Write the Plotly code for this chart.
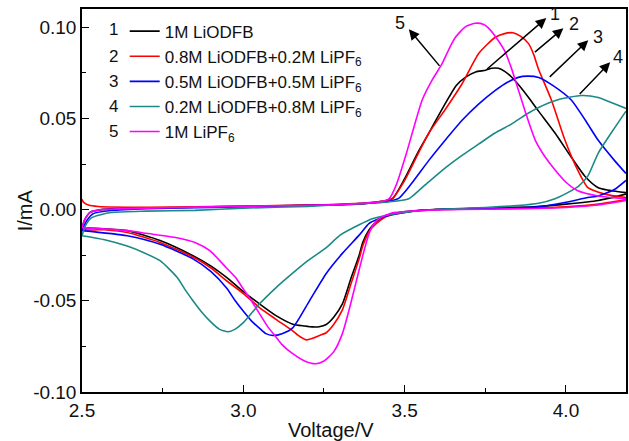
import plotly.graph_objects as go

# ---- cyclic voltammetry loops: forward (anodic) sweep 2.5 -> 4.19 V ----
fwd_v_1 = [2.5, 2.51, 2.525, 2.56, 2.65, 2.8, 3.0, 3.2, 3.35, 3.43, 3.462, 3.5, 3.54, 3.575, 3.6, 3.637,
           3.66, 3.689, 3.72, 3.751, 3.77, 3.791, 3.81, 3.832, 3.86, 3.884, 3.915, 3.966, 4.017, 4.06,
           4.1, 4.186]
fwd_i_1 = [-0.0099, -0.005, -0.0015, 0.0, 0.0008, 0.0012, 0.0018, 0.0025, 0.003, 0.0045, 0.006, 0.017,
           0.031, 0.042, 0.05, 0.0615, 0.068, 0.0726, 0.0755, 0.0764, 0.0775, 0.0775, 0.0758, 0.0726,
           0.067, 0.0615, 0.054, 0.042, 0.0286, 0.018, 0.012, 0.0093]

fwd_v_2 = [2.5, 2.505, 2.52, 2.55, 2.7, 2.9, 3.1, 3.3, 3.43, 3.462, 3.5, 3.54, 3.575, 3.63, 3.678,
           3.73, 3.781, 3.81, 3.836, 3.86, 3.884, 3.9, 3.915, 3.955, 3.997, 4.03, 4.068, 4.12, 4.186]
fwd_i_2 = [0.0055, 0.004, 0.0025, 0.0017, 0.0013, 0.0017, 0.0022, 0.0029, 0.0045, 0.006, 0.016,
           0.03, 0.042, 0.056, 0.069, 0.0857, 0.0945, 0.0965, 0.097, 0.095, 0.091, 0.085, 0.077, 0.06,
           0.038, 0.024, 0.012, 0.0085, 0.0066]

fwd_v_3 = [2.5, 2.515, 2.535, 2.59, 2.7, 2.9, 3.1, 3.3, 3.43, 3.48, 3.52, 3.575, 3.63, 3.678, 3.73,
           3.781, 3.82, 3.852, 3.88, 3.915, 3.96, 4.017, 4.06, 4.1, 4.15, 4.186]
fwd_i_3 = [-0.0115, -0.006, -0.0022, -0.0005, 0.0005, 0.0012, 0.0019, 0.0027, 0.004, 0.006, 0.014,
           0.027, 0.039, 0.049, 0.058, 0.0654, 0.07, 0.0725, 0.0732, 0.0725, 0.068, 0.06, 0.049,
           0.038, 0.027, 0.0198]

fwd_v_4 = [2.5, 2.51, 2.53, 2.59, 2.7, 2.85, 3.0, 3.2, 3.359, 3.45, 3.513, 3.56, 3.627, 3.68, 3.73,
           3.78, 3.832, 3.875, 3.915, 3.98, 4.048, 4.1, 4.15, 4.186]
fwd_i_4 = [-0.0143, -0.009, -0.0044, -0.0016, -0.0008, -0.0004, 0.0008, 0.0018, 0.0033, 0.0042,
           0.006, 0.013, 0.023, 0.03, 0.036, 0.042, 0.047, 0.052, 0.056, 0.0605, 0.0626, 0.0615,
           0.058, 0.0555]

fwd_v_5 = [2.5, 2.51, 2.525, 2.56, 2.7, 2.9, 3.1, 3.3, 3.43, 3.452, 3.475, 3.504, 3.53, 3.554, 3.585,
           3.616, 3.64, 3.658, 3.69, 3.72, 3.745, 3.76, 3.785, 3.81, 3.83, 3.85, 3.875, 3.905, 3.935,
           3.965, 4.0, 4.035, 4.1, 4.186]
fwd_i_5 = [-0.0099, -0.005, -0.0015, 0.0, 0.0008, 0.0015, 0.0021, 0.0028, 0.0045, 0.006, 0.014, 0.03,
           0.046, 0.06, 0.071, 0.08, 0.089, 0.0946, 0.1005, 0.1022, 0.1015, 0.0995, 0.094, 0.087,
           0.078, 0.067, 0.053, 0.038, 0.029, 0.022, 0.015, 0.0105, 0.0075, 0.006]

# ---- reverse (cathodic) sweep 4.19 -> 2.5 V ----
rev_v_1 = [4.186, 4.1, 4.0, 3.9, 3.75, 3.6, 3.52, 3.47, 3.44, 3.41, 3.39, 3.37, 3.359, 3.333, 3.307,
           3.28, 3.257, 3.235, 3.214, 3.19, 3.153, 3.1, 3.05, 3.0, 2.948, 2.9, 2.844, 2.742, 2.64,
           2.57, 2.5]
rev_i_1 = [0.0085, 0.005, 0.003, 0.0015, 0.0008, 0.0002, -0.0008, -0.002, -0.0035, -0.007, -0.011,
           -0.018, -0.025, -0.038, -0.0517, -0.059, -0.063, -0.0642, -0.0643, -0.0638, -0.0628,
           -0.058, -0.0517, -0.045, -0.0372, -0.031, -0.0253, -0.017, -0.0115, -0.0105, -0.0099]

rev_v_2 = [4.186, 4.1, 4.0, 3.9, 3.75, 3.6, 3.52, 3.47, 3.44, 3.41, 3.39, 3.37, 3.359, 3.333, 3.307,
           3.28, 3.257, 3.236, 3.215, 3.195, 3.17, 3.153, 3.1, 3.05, 3.0, 2.948, 2.9, 2.844, 2.742,
           2.64, 2.57, 2.5]
rev_i_2 = [0.0055, 0.003, 0.0015, 0.0008, 0.0004, 0.0, -0.001, -0.0025, -0.004, -0.008, -0.012,
           -0.02, -0.027, -0.041, -0.055, -0.063, -0.0675, -0.069, -0.0705, -0.0714, -0.069,
           -0.0665, -0.06, -0.0537, -0.046, -0.039, -0.032, -0.026, -0.018, -0.0125, -0.011, -0.0105]

rev_v_3 = [4.186, 4.15, 4.1, 4.068, 4.0, 3.915, 3.8, 3.65, 3.55, 3.5, 3.46, 3.42, 3.39, 3.359, 3.307,
           3.257, 3.205, 3.153, 3.12, 3.091, 3.07, 3.05, 3.025, 2.999, 2.975, 2.948, 2.9, 2.844,
           2.742, 2.64, 2.5]
rev_i_3 = [0.016, 0.011, 0.0075, 0.0066, 0.004, 0.0015, 0.0008, 0.0003, -0.0005, -0.0015, -0.0027,
           -0.005, -0.0075, -0.014, -0.024, -0.035, -0.05, -0.0648, -0.068, -0.069, -0.068, -0.065,
           -0.061, -0.0555, -0.05, -0.043, -0.034, -0.027, -0.019, -0.0143, -0.0115]

rev_v_4 = [4.186, 4.14, 4.1, 4.068, 4.04, 4.017, 3.966, 3.915, 3.85, 3.75, 3.65, 3.55, 3.5, 3.46, 3.4,
           3.359, 3.3, 3.257, 3.2, 3.152, 3.1, 3.05, 3.0, 2.975, 2.952, 2.925, 2.896, 2.87, 2.844,
           2.82, 2.794, 2.742, 2.69, 2.64, 2.57, 2.5]
rev_i_4 = [0.054, 0.042, 0.031, 0.0185, 0.013, 0.0104, 0.006, 0.0035, 0.0022, 0.0012, 0.0005,
           -0.0005, -0.0015, -0.0025, -0.005, -0.0083, -0.014, -0.0208, -0.028, -0.035, -0.043,
           -0.0517, -0.062, -0.0655, -0.067, -0.0655, -0.061, -0.056, -0.05, -0.044, -0.037, -0.028,
           -0.0235, -0.02, -0.0165, -0.0143]

rev_v_5 = [4.186, 4.1, 4.0, 3.9, 3.75, 3.6, 3.52, 3.46, 3.42, 3.4, 3.39, 3.375, 3.359, 3.335, 3.307,
           3.28, 3.25, 3.224, 3.19, 3.153, 3.12, 3.102, 3.075, 3.05, 3.025, 2.998, 2.975, 2.948,
           2.896, 2.85, 2.794, 2.7, 2.64, 2.5]
rev_i_5 = [0.005, 0.0025, 0.0012, 0.0006, 0.0002, -0.0002, -0.0008, -0.0018, -0.005, -0.009, -0.013,
           -0.022, -0.033, -0.05, -0.068, -0.078, -0.083, -0.0845, -0.083, -0.079, -0.074, -0.07,
           -0.064, -0.057, -0.05, -0.043, -0.037, -0.032, -0.0225, -0.018, -0.0154, -0.013, -0.0115,
           -0.0099]

series_names = ["1M LiODFB",
                "0.8M LiODFB+0.2M LiPF<sub>6</sub>",
                "0.5M LiODFB+0.5M LiPF<sub>6</sub>",
                "0.2M LiODFB+0.8M LiPF<sub>6</sub>",
                "1M LiPF<sub>6</sub>"]
series_tags = ["1", "2", "3", "4", "5"]
series_colors = ["#000000", "#ff0000", "#0000ff", "#1b8a86", "#ff00ff"]

forward = [(fwd_v_1, fwd_i_1), (fwd_v_2, fwd_i_2), (fwd_v_3, fwd_i_3), (fwd_v_4, fwd_i_4),
           (fwd_v_5, fwd_i_5)]
reverse = [(rev_v_1, rev_i_1), (rev_v_2, rev_i_2), (rev_v_3, rev_i_3), (rev_v_4, rev_i_4),
           (rev_v_5, rev_i_5)]

# tail of each peak-marker arrow (on the curve) and its head/label position
arrow_tail_v = [3.751, 3.899, 3.945, 4.038, 3.612]
arrow_tail_i = [0.0764, 0.0857, 0.072, 0.0626, 0.078]
arrow_head_v = [3.939, 3.992, 4.069, 4.137, 3.513]
arrow_head_i = [0.105, 0.0995, 0.0929, 0.0808, 0.0989]
label_v = [3.965, 4.025, 4.1, 4.16, 3.487]
label_i = [0.1072, 0.1018, 0.0948, 0.0838, 0.1025]

x_tick_vals = [2.5, 3.0, 3.5, 4.0]
x_tick_text = ["2.5", "3.0", "3.5", "4.0"]
y_tick_vals = [-0.10, -0.05, 0.00, 0.05, 0.10]
y_tick_text = ["-0.10", "-0.05", "0.00", "0.05", "0.10"]

FONT = "Liberation Sans, Arial, sans-serif"
INK = "#111111"

fig = go.Figure()
for k in range(5):
    fv, fi = forward[k]
    rv, ri = reverse[k]
    fig.add_trace(go.Scatter(
        x=rv + fv, y=ri + fi, mode="lines", name=series_names[k],
        line=dict(color=series_colors[k], width=1.6, shape="spline", smoothing=0.6),
    ))

annotations = []
for k in range(5):
    annotations.append(dict(
        x=arrow_head_v[k], y=arrow_head_i[k], ax=arrow_tail_v[k], ay=arrow_tail_i[k],
        xref="x", yref="y", axref="x", ayref="y", text="", showarrow=True,
        arrowhead=2, arrowsize=1.4, arrowwidth=1.5, arrowcolor="#000000", standoff=0,
    ))
    annotations.append(dict(
        x=label_v[k], y=label_i[k], xref="x", yref="y", text=series_tags[k], showarrow=False,
        font=dict(family=FONT, size=18, color=INK),
    ))

# numbering in front of the legend rows
legend_row_y = [0.0990, 0.0837, 0.0705, 0.0568, 0.0431]
for k in range(5):
    annotations.append(dict(
        x=2.597, y=legend_row_y[k], xref="x", yref="y", text=series_tags[k], showarrow=False,
        font=dict(family=FONT, size=17, color=INK), xanchor="center",
    ))

# axis titles
annotations.append(dict(
    x=0.457, y=-0.099, xref="paper", yref="paper", text="Voltage/V", showarrow=False,
    font=dict(family=FONT, size=20, color=INK), yanchor="middle", xanchor="center",
))
annotations.append(dict(
    x=-0.1044, y=0.475, xref="paper", yref="paper", text="I/mA", showarrow=False,
    font=dict(family=FONT, size=20, color=INK), textangle=-90,
    xanchor="center", yanchor="middle",
))

fig.update_layout(
    width=629, height=441,
    margin=dict(l=82, r=1, t=9, b=49),
    paper_bgcolor="white", plot_bgcolor="white",
    font=dict(family=FONT, size=19, color=INK),
    showlegend=True,
    legend=dict(x=0.0785, y=0.988, xanchor="left", yanchor="top",
                bgcolor="rgba(0,0,0,0)", font=dict(family=FONT, size=17, color=INK),
                tracegroupgap=0, itemwidth=30),
    annotations=annotations,
)
fig.update_xaxes(
    range=[2.5, 4.186], showgrid=False, zeroline=False,
    showline=True, linecolor="#000000", linewidth=1.5, mirror=True,
    ticks="inside", ticklen=7, tickwidth=1.2, tickcolor="#000000",
    tickvals=x_tick_vals, ticktext=x_tick_text,
    minor=dict(ticks="inside", ticklen=4, tickwidth=1.2, tickcolor="#000000", dtick=0.25,
               tick0=2.5, showgrid=False),
    tickfont=dict(family=FONT, size=19, color=INK),
)
fig.update_yaxes(
    range=[-0.10, 0.11], showgrid=False, zeroline=False,
    showline=True, linecolor="#000000", linewidth=1.5, mirror=True,
    ticks="inside", ticklen=7, tickwidth=1.2, tickcolor="#000000",
    tickvals=y_tick_vals, ticktext=y_tick_text,
    minor=dict(ticks="inside", ticklen=4, tickwidth=1.2, tickcolor="#000000", dtick=0.025,
               tick0=0, showgrid=False),
    tickfont=dict(family=FONT, size=19, color=INK),
)

fig.write_html("out.html")
